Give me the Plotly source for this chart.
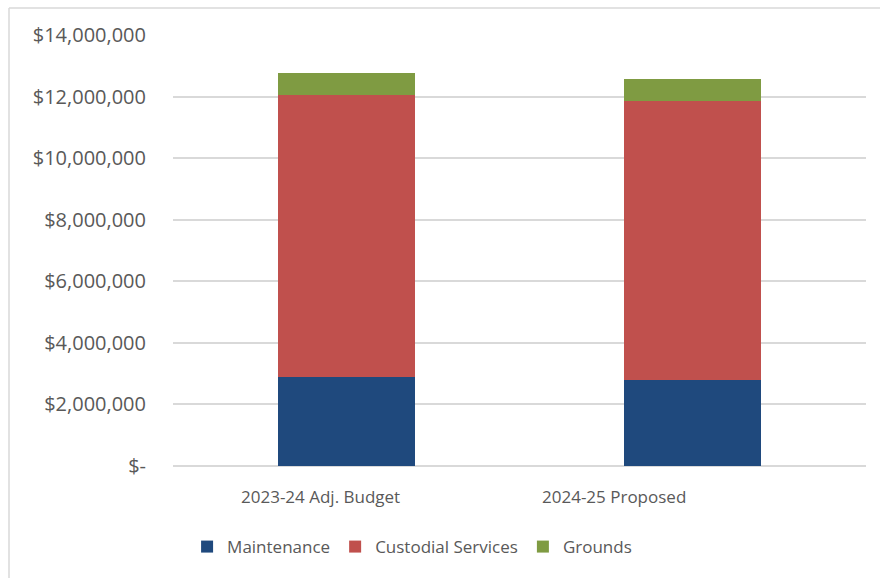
import plotly.graph_objects as go

categories = ["2023-24 Adj. Budget", "2024-25 Proposed"]
maintenance = [2900000, 2780000]
custodial = [9160000, 9090000]
grounds = [690000, 690000]

series = [
    ("Maintenance", maintenance, "#1F497D"),
    ("Custodial Services", custodial, "#C0504D"),
    ("Grounds", grounds, "#7F9B42"),
]

tick_vals = [0, 2000000, 4000000, 6000000, 8000000, 10000000, 12000000, 14000000]
tick_text = ["$-", "$2,000,000", "$4,000,000", "$6,000,000", "$8,000,000",
             "$10,000,000", "$12,000,000", "$14,000,000"]

W, H = 880, 578
ML, MR, MT, MB = 173, 14, 35, 112
FONT = "Open Sans"
GREY = "#595959"

fig = go.Figure()
for name, vals, color in series:
    fig.add_trace(go.Bar(
        x=categories, y=vals, name=name,
        marker=dict(color=color, line=dict(width=0)),
        width=0.395,
    ))

# category labels sit slightly left of the bar centres
label_shift = [-26, -79]
for cat, dx in zip(categories, label_shift):
    fig.add_annotation(x=cat, y=0, xref="x", yref="y", text=cat,
                       showarrow=False, yanchor="top", yshift=-17, xshift=dx,
                       font=dict(family=FONT, size=17, color=GREY))

# chart frame (top and left edges)
pw, ph = W - ML - MR, H - MT - MB
def px(x):
    return (x - ML) / pw
def py(y):
    return (H - MB - y) / ph
fig.add_shape(type="line", xref="paper", yref="paper",
              x0=px(9), x1=px(880), y0=py(8), y1=py(8),
              line=dict(color="#D9D9D9", width=1.5))
fig.add_shape(type="line", xref="paper", yref="paper",
              x0=px(9), x1=px(9), y0=py(8), y1=py(578),
              line=dict(color="#D9D9D9", width=1.5))

fig.update_layout(
    width=W, height=H,
    margin=dict(l=ML, r=MR, t=MT, b=MB),
    barmode="stack",
    plot_bgcolor="white", paper_bgcolor="white",
    font=dict(family=FONT, size=17, color=GREY),
    showlegend=True,
    legend=dict(orientation="h", x=0.345, xanchor="center", y=-0.188, yanchor="middle",
                font=dict(family=FONT, size=17, color=GREY),
                traceorder="normal", itemwidth=30),
    xaxis=dict(showticklabels=False, showgrid=False, zeroline=False,
               showline=False, ticks=""),
    yaxis=dict(range=[0, 14000000], tickvals=tick_vals, ticktext=tick_text,
               showgrid=True, gridcolor="#D9D9D9", gridwidth=1.5,
               zeroline=True, zerolinecolor="#D9D9D9", zerolinewidth=1.5,
               ticks="", ticklabelstandoff=26,
               tickfont=dict(family=FONT, size=20, color=GREY)),
)

fig.write_html("out.html")
